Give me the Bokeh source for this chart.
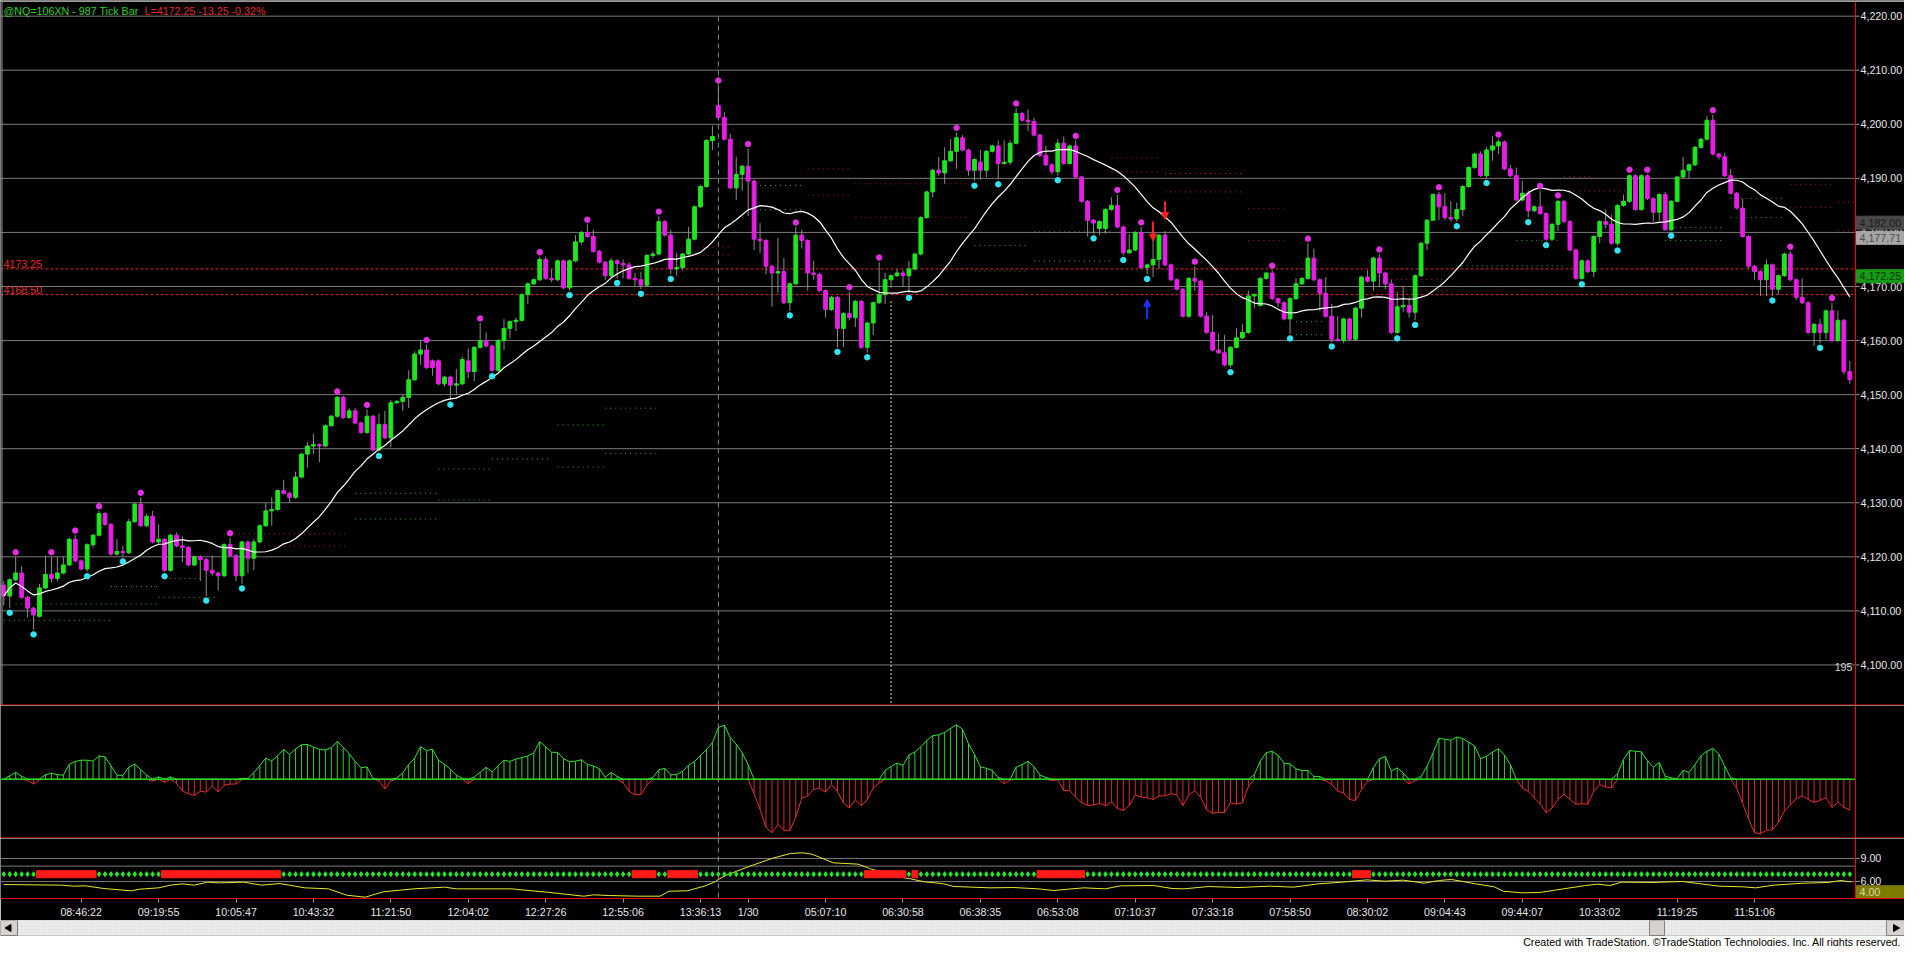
import numpy as np
import pandas as pd
from bokeh.plotting import figure
from bokeh.layouts import column
from bokeh.models import (Range1d, LinearAxis, FixedTicker, Label, Span, Arrow, NormalHead,
                          Grid, ColumnDataSource)
from bokeh.embed import file_html
from bokeh.resources import INLINE
from bokeh.core.properties import value

# ---------------- data ----------------
opens = [4114.75, 4112.75, 4115.75, 4117, 4112.5, 4110.5, 4109, 4114.25, 4116.75, 4116, 4117, 4118.5, 4123.25, 4119.25, 4117.75, 4122.25, 4124, 4128, 4126, 4120.5, 4121, 4120.75, 4126.5, 4129.75, 4125.75, 4127.5, 4122.75, 4123.25, 4117.5, 4124, 4122, 4121.75, 4118.5, 4120, 4119.5, 4117.5, 4117, 4116.5, 4122.25, 4120.25, 4116.5, 4122.75, 4119.75, 4122.75, 4125.75, 4128.5, 4128.75, 4132.25, 4131.75, 4131,
         4134.75, 4139, 4140.5, 4140.75, 4140.5, 4144.25, 4146, 4149.5, 4145.75, 4147, 4144.75, 4143, 4146, 4139.75, 4144.5, 4142, 4148.5, 4148.75, 4149.5, 4152.75, 4157.5, 4158.25, 4156.25, 4156.25, 4152, 4153.25, 4151.75, 4152, 4156.25, 4154.25,
         4158.75, 4160, 4159, 4154.5, 4160, 4162.25, 4163.5, 4163.75, 4168.5, 4170.5, 4171.25, 4175, 4171.5, 4171.25, 4174.75, 4169.75, 4174.75, 4178.25, 4180, 4179.25,
         4176.5, 4174.5, 4172, 4174.75, 4174.25, 4174, 4171.5, 4171.25, 4170.25, 4175.75, 4176, 4182, 4179.5, 4173.25, 4173.5, 4176, 4178.75, 4184.75, 4188.5, 4197,
         4203.5, 4201.25, 4197.25, 4188.25, 4190.75, 4192.25, 4189.5, 4178.75, 4178.5, 4173.75, 4172.5, 4172.75, 4167, 4170.5, 4179.5, 4178.5, 4172.5, 4172.25, 4169.25, 4165.75,
         4168, 4162.25, 4165, 4164.25, 4167.25, 4158.75, 4163.25, 4167, 4168.5, 4171.25, 4172, 4172.5, 4172, 4173.25, 4176, 4182.75, 4187.5, 4191.5, 4191, 4193.25,
         4195, 4197.5, 4195.25, 4191.5, 4193, 4191.5, 4195, 4196, 4192.75, 4193, 4196.5, 4202, 4200.75, 4200.5, 4198, 4194.25, 4192.5, 4191.25, 4196.5, 4192.75,
         4196, 4190.25, 4185.75, 4182.25, 4180.75, 4180.75, 4184.25, 4185, 4181, 4176.25, 4176.75, 4180, 4173.5, 4174, 4175, 4179.5, 4174, 4171.25, 4169.5, 4164.5,
         4171.5, 4171, 4164.5, 4161.5, 4158.25, 4157.75, 4155.5, 4158.75, 4160.5, 4161.5, 4168.25, 4166.5, 4171.5, 4172.5, 4167.75, 4167, 4164, 4167.75, 4170.5, 4171.5,
         4175.25, 4171.25, 4168.75, 4164.5, 4160.25, 4160, 4164, 4160.25, 4166, 4171.75, 4171, 4175.25, 4172.5, 4170.5, 4161.5, 4166.25, 4166.5, 4165.25, 4172, 4178,
         4182.25, 4187, 4184.75, 4182.75, 4182.5, 4184.25, 4188.5, 4192, 4194.5, 4190.5, 4195.25, 4196, 4196.75, 4191.75, 4190.5, 4186, 4187.25, 4184, 4184.75, 4183.5,
         4178.75, 4181.5, 4185.75, 4182, 4176.75, 4171.5, 4174.75, 4172.75, 4179.25, 4182, 4181.5, 4178, 4185, 4185.75, 4190.5, 4184.25, 4190.5, 4186.25, 4183.75, 4187,
         4180.5, 4185.75, 4190.25, 4191.5, 4192.5, 4195.75, 4197.25, 4200.75, 4194.5, 4194, 4190.5, 4187.25, 4184.5, 4179.25, 4173.75, 4172.75, 4171.25, 4174, 4169.5, 4172,
         4176, 4171.25, 4168, 4167, 4161.5, 4163, 4161.5, 4165.5, 4160, 4163.75, 4154.25]

highs = [4115.5, 4116, 4120, 4118.25, 4112.75, 4110.75, 4115, 4120.25, 4120, 4120, 4120, 4123.5, 4124, 4119.5, 4122.5, 4124.25, 4128.5, 4128.25, 4126.25, 4123.25, 4122, 4127, 4130, 4131, 4128, 4128.5, 4126, 4123.5, 4124.25, 4124.5, 4123.75, 4122, 4120.25, 4120.25, 4119.75, 4120.25, 4117.25, 4122.5, 4123.5, 4120.5, 4123, 4123, 4123.25, 4126, 4130, 4131, 4132.5, 4134.25, 4132, 4135.75,
         4139.25, 4141.25, 4142.75, 4141, 4144.5, 4146.25, 4149.75, 4149.75, 4147.5, 4147.5, 4145, 4147.25, 4146.25, 4146.5, 4147, 4149, 4149, 4150, 4154.5, 4158, 4160, 4159.25, 4156.5, 4156.5, 4153.5, 4153.5, 4154.75, 4157, 4158.5, 4159,
         4163.25, 4161.5, 4159.25, 4160.25, 4164, 4163.75, 4164.25, 4168.75, 4170.75, 4171.5, 4175.5, 4175.5, 4173.25, 4175, 4175, 4175, 4179.5, 4180.25, 4181.5, 4180.5,
         4176.75, 4174.75, 4175.25, 4175, 4175, 4174.5, 4172.5, 4172.75, 4176, 4176.5, 4183, 4182.25, 4180.5, 4176.25, 4176.25, 4181, 4185, 4188.75, 4197.25, 4199.75,
         4207.25, 4202.25, 4198.25, 4194, 4192.5, 4195.5, 4189.75, 4181.75, 4178.75, 4174, 4179, 4175.25, 4170.75, 4181, 4180.5, 4178.75, 4174.75, 4172.5, 4169.5, 4168.25,
         4168.25, 4165.25, 4169, 4167.5, 4167.5, 4163.5, 4167.25, 4174.5, 4172.5, 4172.25, 4173.25, 4173, 4174.75, 4176.25, 4183, 4187.75, 4191.75, 4194, 4195.75, 4197.25,
         4198.5, 4198, 4195.5, 4193.75, 4195.25, 4195.25, 4196.25, 4197, 4197, 4197, 4203, 4202.25, 4202.75, 4201.25, 4198.25, 4196, 4192.75, 4197.25, 4197.75, 4196.25,
         4197, 4190.5, 4186, 4182.5, 4182.25, 4184.5, 4186.5, 4187, 4181.25, 4179.75, 4180.25, 4181, 4174.25, 4181.75, 4179.75, 4180.25, 4174.25, 4171.5, 4169.75, 4171.75,
         4173.75, 4171.25, 4165.25, 4164.75, 4161.25, 4161, 4159, 4162.25, 4163, 4169.25, 4168.75, 4171.75, 4172.75, 4173, 4168, 4167.25, 4168, 4171.5, 4171.75, 4178,
         4177, 4171.5, 4171.75, 4166.75, 4164.5, 4164.25, 4164.25, 4166.25, 4172, 4173, 4175.5, 4176, 4172.75, 4171.25, 4169, 4170, 4168, 4172.25, 4178.25, 4182.5,
         4187.25, 4187.5, 4187.25, 4185.75, 4185.5, 4188.75, 4192.25, 4194.75, 4195, 4195.75, 4197.75, 4197.25, 4197, 4192.5, 4192, 4189.5, 4187.75, 4185, 4187.75, 4183.75,
         4181.75, 4186, 4186, 4182.25, 4177, 4175, 4175, 4179.5, 4182.25, 4184.25, 4183.25, 4185.25, 4187, 4190.75, 4190.75, 4190.75, 4190.75, 4186.5, 4187.25, 4187.5,
         4186, 4190.5, 4194, 4192.75, 4196, 4197.5, 4201.5, 4201.75, 4194.75, 4194.75, 4191.75, 4187.5, 4186.25, 4179.5, 4174, 4173, 4175, 4174.25, 4172.25, 4176.25,
         4176.5, 4171.5, 4171.5, 4167.25, 4163.25, 4164, 4165.75, 4167, 4165.5, 4164, 4156.25]

lows = [4111, 4110.5, 4115.5, 4112.25, 4108.75, 4106.5, 4108.75, 4114, 4115.25, 4115.5, 4116.75, 4118.25, 4119, 4117.5, 4117.25, 4121.75, 4123.75, 4125.75, 4120.25, 4120.25, 4120, 4120.5, 4126.25, 4125.5, 4125.5, 4122.5, 4122.5, 4117.25, 4117.25, 4121.75, 4119, 4118.25, 4118.25, 4115.5, 4112.75, 4116.5, 4113.75, 4116.25, 4120, 4115.5, 4115, 4117, 4117.5, 4122.5, 4125.5, 4125.75, 4128.5, 4131.5, 4130, 4130.75,
        4134.5, 4136.5, 4139, 4137.5, 4140.25, 4144, 4145.75, 4145.5, 4145.5, 4144.5, 4142.75, 4142.75, 4139.5, 4139.5, 4141.75, 4140.25, 4148.25, 4147, 4147.5, 4152.5, 4155.5, 4154.75, 4153.5, 4151.75, 4151.5, 4149, 4150, 4151.75, 4153, 4152.5,
        4158.5, 4158.75, 4154.25, 4154.25, 4158.25, 4160.5, 4161.75, 4163.5, 4166.75, 4170.25, 4171, 4171.25, 4170.75, 4171, 4169.5, 4169.25, 4174.5, 4177.75, 4179, 4176.25,
        4174.25, 4171.25, 4171.5, 4171.5, 4171.5, 4171.25, 4170, 4169.5, 4170, 4175.25, 4175.75, 4179.25, 4172.25, 4172, 4173, 4175.75, 4178.5, 4184.5, 4188.25, 4195.25,
        4201, 4197, 4188, 4186, 4187.75, 4183, 4176.75, 4176.25, 4172.25, 4166.25, 4168.75, 4166.75, 4165.5, 4170.25, 4177, 4169.25, 4171.25, 4169, 4164.25, 4165.5,
        4158.75, 4158.75, 4163.75, 4162.5, 4158.5, 4157.75, 4161, 4166.75, 4166.75, 4169.75, 4171.75, 4170, 4168.75, 4173, 4175.75, 4182.5, 4186.5, 4190.5, 4189, 4193,
        4191.75, 4195, 4190.5, 4189.5, 4189.75, 4190.25, 4194.75, 4189.75, 4192.5, 4192.5, 4196.25, 4200.5, 4198.75, 4197.75, 4194, 4192.25, 4190.75, 4190.5, 4192.5, 4192.5,
        4190, 4185.5, 4179.25, 4179.75, 4179.5, 4179.75, 4184, 4180.75, 4175.75, 4176, 4176.5, 4173.25, 4172.25, 4171.75, 4173.25, 4173.75, 4171, 4169.25, 4164.25, 4164.25,
        4169.25, 4164.25, 4161.25, 4158, 4157.5, 4155.25, 4155, 4158.5, 4160.25, 4161.25, 4166, 4166.25, 4171.25, 4167.5, 4166.25, 4163.75, 4161.25, 4167.5, 4170.25, 4171.25,
        4171, 4165.5, 4164.25, 4159.75, 4159.75, 4159.5, 4160, 4160, 4164.25, 4170.75, 4169.25, 4170, 4169.5, 4161.25, 4161.25, 4165.25, 4164.25, 4163.75, 4171.75, 4176.75,
        4182.25, 4182.25, 4182.25, 4182, 4182, 4183, 4188.25, 4191.75, 4190.25, 4190, 4193.25, 4194.5, 4191.5, 4190.25, 4185.75, 4185.75, 4182.75, 4183.75, 4183.25, 4178.5,
        4178.5, 4180.25, 4181.75, 4176.5, 4171.25, 4171.25, 4172.5, 4171.75, 4178, 4180.75, 4177.75, 4177.5, 4184.75, 4185.5, 4184, 4184, 4186, 4182, 4182, 4180.25,
        4180.25, 4185.5, 4190, 4190, 4192.25, 4195.5, 4197, 4194.25, 4193.5, 4190.25, 4187, 4184.25, 4179, 4173.25, 4171.25, 4168.25, 4168.25, 4168.25, 4168.5, 4171.75,
        4171, 4167.5, 4166.75, 4161.25, 4159, 4159.5, 4160.25, 4159.75, 4159.75, 4153.75, 4152]

closes = [4112.75, 4115.75, 4117, 4112.5, 4110.5, 4109.25, 4114.25, 4116.75, 4116, 4117, 4118.5, 4123.25, 4119.25, 4117.75, 4122.25, 4124, 4128, 4126, 4120.5, 4121, 4120.75, 4126.5, 4129.75, 4125.75, 4127.5, 4122.75, 4123.25, 4117.5, 4124, 4122, 4121.75, 4118.5, 4120, 4119.5, 4117.5, 4117, 4116.5, 4122.25, 4120.25, 4116.5, 4122.75, 4119.75, 4122.75, 4125.75, 4128.5, 4128.75, 4132.25, 4131.75, 4131, 4134.75,
          4139, 4140.5, 4140.75, 4140.5, 4144.25, 4146, 4149.5, 4145.75, 4147, 4144.75, 4143, 4146, 4139.75, 4144.5, 4142, 4148.5, 4148.75, 4149.5, 4152.75, 4157.5, 4158.25, 4155, 4155, 4152, 4153.25, 4151.75, 4152, 4156.5, 4154.25, 4158.75,
          4160, 4159, 4154.5, 4160, 4162.25, 4163.5, 4163.75, 4168.5, 4170.5, 4171.25, 4175, 4171.5, 4171.25, 4174.75, 4169.75, 4174.75, 4178.25, 4180, 4179.25, 4176.5,
          4174.5, 4172, 4174.75, 4174.25, 4174, 4171.5, 4171.25, 4170.25, 4175.75, 4176, 4182, 4179.5, 4173.25, 4173.5, 4176, 4178.75, 4184.75, 4188.5, 4197, 4197.75,
          4201.25, 4197.25, 4188.25, 4190.75, 4192.25, 4189.5, 4178.75, 4178.5, 4173.75, 4172.5, 4172.75, 4167, 4170.5, 4179.5, 4178.5, 4172.5, 4172.25, 4169.25, 4165.75, 4168,
          4162.25, 4165, 4164.25, 4167.25, 4158.75, 4163.25, 4167, 4168.5, 4171.25, 4172, 4172.5, 4172, 4173.25, 4176, 4182.75, 4187.5, 4191.5, 4191, 4193.25, 4195,
          4197.5, 4195.25, 4191.5, 4193.5, 4191.5, 4195, 4196, 4192.75, 4193, 4196.5, 4202, 4200.75, 4200.5, 4198, 4194.25, 4192.5, 4191.25, 4196.5, 4192.75, 4196,
          4190.25, 4185.75, 4182.25, 4181.75, 4182, 4184.25, 4185, 4181, 4176.25, 4176.75, 4180, 4173.5, 4174, 4175, 4179.5, 4174, 4171.25, 4169.5, 4164.5, 4171.5,
          4171, 4164.5, 4161.5, 4158.25, 4157.75, 4155.5, 4158.75, 4160.5, 4161.5, 4168.25, 4168.5, 4171.5, 4172.5, 4167.75, 4167, 4164, 4167.75, 4170.5, 4171.5, 4175.25,
          4171.25, 4168.75, 4164.5, 4160.25, 4160, 4164, 4160.25, 4166, 4171.75, 4171, 4175.25, 4172.5, 4170.5, 4161.5, 4166.25, 4166.5, 4165.25, 4172, 4178, 4182.25,
          4187, 4184.75, 4182.75, 4182.5, 4184.25, 4188.5, 4192, 4194.5, 4190.5, 4195.25, 4196, 4196.75, 4191.75, 4190.5, 4186, 4187.25, 4184, 4184.75, 4183.5, 4178.75,
          4181.5, 4185.75, 4182, 4176.75, 4171.5, 4174.75, 4172.75, 4179.25, 4182, 4181.5, 4178, 4185, 4185.75, 4190.5, 4184.25, 4190.5, 4186.25, 4183.75, 4187, 4180.5,
          4185.75, 4190.25, 4191.5, 4192.5, 4195.75, 4197.25, 4200.75, 4194.5, 4194, 4190.5, 4187.25, 4184.5, 4179.25, 4173.75, 4172.75, 4171.25, 4174, 4169.5, 4172, 4176,
          4171.25, 4168, 4167, 4161.5, 4163, 4161.5, 4165.5, 4160, 4163.75, 4154.25, 4152.75]

# swing markers (bar numbers, 0-based)
swing_high_bars = [2, 8, 12, 16, 23, 38, 56, 61, 71, 80, 90, 98, 110, 120, 125, 133, 142, 147, 160, 170,
                   180, 187, 191, 200, 213, 219, 231, 241, 251, 258, 261, 273, 276, 287, 300, 307]
swing_low_bars = [1, 5, 14, 20, 27, 34, 40, 63, 75, 82, 95, 103, 107, 112, 132, 140, 145, 152, 163, 167,
                  177, 183, 188, 192, 206, 216, 223, 234, 237, 244, 249, 256, 259, 265, 271, 280, 297, 305]

# dotted level segments (bar from, bar to, price)
green_lvl_x0 = [0, 2, 18, 27, 26, 59, 59, 73, 73, 82, 93, 93, 101, 101, 127, 127, 163, 163, 173, 173, 217, 217, 244, 244, 254, 279, 279, 290, 290]
green_lvl_x1 = [18, 26, 26, 33, 36, 73, 73, 82, 82, 92, 101, 101, 110, 110, 134, 134, 172, 172, 186, 186, 222, 222, 262, 254, 261, 289, 289, 299, 299]
green_lvl_y = [4108.25, 4111.25, 4114.5, 4116, 4112.5, 4131.75, 4127, 4136.25, 4130.5, 4138.1, 4144.4, 4136.6, 4147.5, 4139.1, 4188.7, 4184.2, 4177.6, 4172.9, 4180.1, 4174.7, 4163.5, 4161.1, 4173.8, 4170, 4178.5, 4180.9, 4178.5, 4186.3, 4182.75]
red_lvl_x0 = [37, 37, 114, 114, 135, 135, 143, 143, 186, 186, 195, 195, 209, 209, 233, 233, 262, 262, 300, 300, 308, 308]
red_lvl_x1 = [58, 58, 122, 122, 142, 142, 162, 162, 194, 194, 208, 208, 215, 215, 243, 243, 267, 274, 307, 307, 310.8, 310.8]
red_lvl_y = [4124.25, 4122, 4177.3, 4175.8, 4191.75, 4186.9, 4189, 4182.8, 4193.8, 4191.2, 4190.9, 4187.5, 4184.4, 4178.5, 4171.3, 4169.2, 4190.3, 4187.7, 4188.9, 4184.65, 4185.6, 4180.3]

alert_levels = [4173.25, 4168.50]
alert_labels = ["4173.25", "4168.50"]

price_ticks = list(range(4100, 4221, 10))

# right-axis value boxes (price, text)
box_prices = [4181.8, 4179.0, 4171.9]
box_texts = ["4,182.00", "4,177.71", "4,172.25"]

# arrows (bar, tail price, head price)
arrow_blue = (192, 4164.0, 4167.6)
arrows_red = [(193, 4182.0, 4178.4), (195, 4185.75, 4182.4)]

SESSION_BREAK_BAR = 120
MARKER_BAR = 149
MARKER_TOP = 4167.3

# time axis
time_tick_bars = [13, 26, 39, 52, 65, 78, 91, 104, 117, 125, 138, 151, 164, 177, 190, 203, 216, 229, 242, 255, 268, 281, 294]
time_tick_labels = ["08:46:22", "09:19:55", "10:05:47", "10:43:32", "11:21:50", "12:04:02", "12:27:26", "12:55:06",
                    "13:36:13", "1/30", "05:07:10", "06:30:58", "06:38:35", "06:53:08", "07:10:37", "07:33:18",
                    "07:58:50", "08:30:02", "09:04:43", "09:44:07", "10:33:02", "11:19:25", "11:51:06"]

# lower study: yellow line vertices (bar, value)
yellow_x = [0, 9.7, 11.7, 13.7, 16.8, 21.4, 22.9, 26, 28, 30, 32, 34.2, 36.2, 40.3, 43.3, 46.4, 50.5, 54.5, 57.6, 60.7,
            63.7, 68.9, 74, 76, 85.2, 88.2, 91.3, 97.4, 99, 101.5, 106.6, 110.2, 111.7, 114.8, 117.8, 119.4, 120.9, 125, 129, 132.1,
            134.2, 135.7, 139.3, 143.4, 145.4, 149.5, 152, 154.6, 157.6, 159.5, 165.6, 169.6, 173.7, 176.3, 178.8, 181.4, 185, 187.5, 193.1, 196.2,
            198.2, 202.3, 207.4, 212.5, 216.6, 220.7, 224.8, 228.9, 231.9, 235, 238.5, 241.1, 243.1, 247.2, 250.3, 251.8, 254.9, 257.9, 260.5, 265.6,
            267.6, 269.7, 271.7, 276.8, 281.9, 288, 292.1, 294.2, 297.2, 302.3, 306.4, 308.5, 309.5, 310.3]
yellow_y = [5.60, 5.52, 5.39, 5.43, 5.08, 4.78, 5.00, 5.17, 5.52, 5.69, 5.52, 5.91, 5.82, 5.91, 5.52, 5.73, 5.17, 5.04, 4.21, 3.95,
            4.65, 5.04, 5.26, 5.04, 5.04, 4.82, 4.60, 4.08, 4.26, 4.17, 4.08, 4.08, 4.73, 4.78, 5.43, 5.95, 6.69, 7.91, 9.00, 9.65,
            9.73, 9.56, 8.43, 8.26, 7.69, 6.69, 6.39, 5.95, 5.73, 5.35, 5.17, 5.21, 5.04, 4.82, 5.00, 5.17, 5.04, 5.43, 5.47, 5.08,
            5.04, 5.34, 5.21, 5.39, 5.26, 5.69, 5.91, 6.21, 6.04, 6.17, 5.78, 6.13, 6.26, 5.69, 5.30, 4.73, 4.52, 4.56, 4.87, 5.47,
            5.65, 5.47, 5.91, 5.87, 6.00, 5.39, 5.30, 5.17, 5.52, 5.78, 5.87, 6.13, 6.00, 5.95]
squeeze_on_start = [6, 27, 106, 112, 145, 153, 174, 227]
squeeze_on_end = [15, 46, 109, 116, 151, 153, 181, 229]
SQUEEZE_LEVEL = 6.95
study_grid = [6, 8, 9]
study_ticks = [6, 9]
study_ticks_text = ["6.00", "9.00"]

# ---------------- styling / layout ----------------
FONT = "Liberation Sans"
FS = "10.7px"
W = 1904
PXB = 5.955                 # pixels per bar
X0 = -0.55
AX = X0 + 1855 / PXB        # position of the red price-axis line (bar units)
H1, H2, H3, H4 = 705, 133, 82, 26
H3_AXIS = 22
GREEN = "#1ee61e"
MAGENTA = "#e61ee6"
WICK = "#8c8c8c"
GRID = "#7a7a7a"
AXIS_RED = "#ff0000"
LABEL_COL = "#e6e6e6"

n = len(closes)
idx = np.arange(n)
o = np.array(opens, dtype=float)
h = np.array(highs, dtype=float)
l = np.array(lows, dtype=float)
c = np.array(closes, dtype=float)
hi = np.maximum(h, np.maximum(o, c))
lo = np.minimum(l, np.minimum(o, c))
up = c >= o

cs = pd.Series(c)
ma = cs.rolling(20, min_periods=1).mean().to_numpy()
osc = (cs - cs.shift(8).bfill()).ewm(span=3, adjust=False).mean().to_numpy()

xr = Range1d(X0, X0 + W / PXB)


def px(d):
    return d / PXB


def base_fig(height, y_range, bottom=0):
    p = figure(width=W, height=height, x_range=xr, y_range=y_range,
               output_backend="svg", toolbar_location=None, x_axis_location=None, y_axis_location=None,
               background_fill_color="black", border_fill_color="black", outline_line_color=None,
               min_border_left=0, min_border_right=0, min_border_top=0, min_border_bottom=bottom)
    p.center = [r for r in p.center if not isinstance(r, Grid)]
    p.add_layout(Span(location=AX, dimension="height", line_color=AXIS_RED, line_width=1))
    return p


def price_axis(p, ticks, texts, grid_ticks=None):
    gt = ticks if grid_ticks is None else grid_ticks
    p.segment(x0=[X0] * len(gt), y0=gt, x1=[AX] * len(gt), y1=gt, line_color=GRID, line_width=1)
    p.segment(x0=[AX] * len(ticks), y0=ticks, x1=[AX + px(4)] * len(ticks), y1=ticks,
              line_color="#9a9a9a", line_width=1)
    p.text(x=[AX + px(5)] * len(ticks), y=ticks, text=texts, text_align="left", text_baseline="middle",
           text_color=LABEL_COL, text_font=value(FONT), text_font_size=FS)


def axis_box(p, y, text, bg, fg):
    p.rect(x=[AX + px(26)], y=[y], width=50, width_units="screen", height=13, height_units="screen",
           fill_color=bg, line_color=bg)
    p.text(x=[AX + px(4)], y=[y], text=[text], text_align="left", text_baseline="middle",
           text_color=fg, text_font=value(FONT), text_font_size=FS)


# ---------------- main price panel ----------------
p1 = base_fig(H1, Range1d(4092.5, 4222.9))
price_axis(p1, price_ticks, [f"{t:,.2f}" for t in price_ticks])

p1.add_layout(Span(location=H1 - 1, location_units="screen", dimension="width", line_color="#9a9a9a"))
p1.add_layout(Span(location=1.5, location_units="screen", dimension="height", line_color="#9a9a9a"))
p1.add_layout(Span(location=0.5, location_units="screen", dimension="width", line_color=AXIS_RED))

p1.segment(x0=[X0] * 2, y0=alert_levels, x1=[AX] * 2, y1=alert_levels,
           line_color="#e02828", line_dash="3 2", line_width=1)
for lv, tx in zip(alert_levels, alert_labels):
    p1.add_layout(Label(x=3, y=lv, x_units="screen", y_units="data", text=tx, text_color="#e82a2a",
                        text_font=FONT, text_font_size=FS, text_baseline="bottom", y_offset=1))

p1.segment(x0=green_lvl_x0, y0=green_lvl_y, x1=green_lvl_x1, y1=green_lvl_y,
           line_color="#3aa83a", line_dash="1 4", line_width=1)
p1.segment(x0=red_lvl_x0, y0=red_lvl_y, x1=red_lvl_x1, y1=red_lvl_y,
           line_color="#b02424", line_dash="1 4", line_width=1)

p1.segment(x0=[SESSION_BREAK_BAR], y0=[4092.5], x1=[SESSION_BREAK_BAR], y1=[4220.5],
           line_color="#8a8a8a", line_dash="5 4", line_width=1)
p1.segment(x0=[MARKER_BAR], y0=[MARKER_TOP], x1=[MARKER_BAR], y1=[4092.6],
           line_color="#efe6b0", line_dash="2 2", line_width=1)

src = ColumnDataSource(dict(x=idx, top=np.maximum(o, c), bottom=np.minimum(o, c), hi=hi, lo=lo,
                            color=np.where(up, GREEN, MAGENTA)))
p1.segment(x0="x", y0="hi", x1="x", y1="lo", source=src, line_color=WICK, line_width=1)
p1.vbar(x="x", width=0.64, top="top", bottom="bottom", source=src,
        fill_color="color", line_color="color", line_width=1)

p1.line(idx, ma, line_color="white", line_width=1.2)

hb = np.array(swing_high_bars)
lb = np.array(swing_low_bars)
p1.scatter(hb, hi[hb] + 0.85, size=5.5, marker="circle", fill_color="#e030e0", line_color="#e030e0")
p1.scatter(lb, lo[lb] - 0.85, size=5.5, marker="circle", fill_color="#30e4f0", line_color="#30e4f0")

bx, by0, by1 = arrow_blue
p1.add_layout(Arrow(end=NormalHead(size=7, fill_color="#2030ff", line_color="#2030ff"),
                    x_start=bx, y_start=by0, x_end=bx, y_end=by1, line_color="#2030ff", line_width=2))
for ax_, y0_, y1_ in arrows_red:
    p1.add_layout(Arrow(end=NormalHead(size=7, fill_color="#ff2020", line_color="#ff2020"),
                        x_start=ax_, y_start=y0_, x_end=ax_, y_end=y1_, line_color="#ff2020", line_width=2))

p1.text(x=[AX - px(3)], y=[4099.6], text=["195"], text_align="right", text_baseline="middle",
        text_color="#d8d8d8", text_font=value(FONT), text_font_size=FS)

p1.add_layout(Label(x=3, y=H1 - 4, x_units="screen", y_units="screen", text="@NQ=106XN - 987 Tick Bar",
                    text_color="#2ad22a", text_font=FONT, text_font_size=FS, text_baseline="top"))
p1.add_layout(Label(x=144, y=H1 - 4, x_units="screen", y_units="screen", text="L=4172.25  -13.25  -0.32%",
                    text_color="#e62828", text_font=FONT, text_font_size=FS, text_baseline="top"))

axis_box(p1, box_prices[0], box_texts[0], "#4a4a4a", "#1c1c1c")
axis_box(p1, box_prices[1], box_texts[1], "#a6a6a6", "#4a4a4a")
axis_box(p1, box_prices[2], box_texts[2], "#179a17", "#0b3a0b")

# ---------------- histogram panel ----------------
pk = float(np.max(osc))
p2 = base_fig(H2, Range1d(-pk * 61 / 56, pk * 76 / 56))
p2.add_layout(Span(location=0.5, location_units="screen", dimension="width", line_color=AXIS_RED))
p2.add_layout(Span(location=SESSION_BREAK_BAR, dimension="height", line_color="#8a8a8a", line_dash="5 4"))

pos = np.where(osc > 0, osc, 0.0)
neg = np.where(osc < 0, osc, 0.0)
p2.segment(x0=idx, y0=np.zeros(n), x1=idx, y1=neg, line_color="#d42a2a", line_width=1)
p2.line(idx, neg, line_color="#e03030", line_width=1)
p2.segment(x0=idx, y0=np.zeros(n), x1=idx, y1=pos, line_color="#3cc83c", line_width=1)
p2.segment(x0=[X0], y0=[0], x1=[AX], y1=[0], line_color="#22d822", line_width=1.5)
p2.line(idx, pos, line_color="#34e034", line_width=1)

# ---------------- lower study panel ----------------
p3 = base_fig(H3, Range1d(3.78, 11.6), bottom=H3_AXIS)
price_axis(p3, study_ticks, study_ticks_text, grid_ticks=study_grid)
axb = LinearAxis(ticker=FixedTicker(ticks=time_tick_bars),
                 major_label_overrides={k: t for k, t in zip(time_tick_bars, time_tick_labels)})
axb.axis_line_color = AXIS_RED
axb.major_tick_line_color = "#9a9a9a"
axb.major_tick_out = 4
axb.major_tick_in = 0
axb.minor_tick_line_color = None
axb.major_label_text_color = LABEL_COL
axb.major_label_text_font = FONT
axb.major_label_text_font_size = FS
axb.major_label_standoff = 3
p3.add_layout(axb, "below")
p3.add_layout(Span(location=SESSION_BREAK_BAR, dimension="height", line_color="#8a8a8a", line_dash="5 4"))

sq = np.zeros(n, dtype=bool)
for s, e in zip(squeeze_on_start, squeeze_on_end):
    sq[s:e + 1] = True
p3.line(yellow_x, yellow_y, line_color="#e8e830", line_width=1)
p3.scatter(idx[~sq], np.full((~sq).sum(), SQUEEZE_LEVEL), marker="diamond", size=5,
           fill_color="#22ee22", line_color="#22ee22")
p3.rect(x=idx[sq], y=np.full(sq.sum(), SQUEEZE_LEVEL), width=1.0, height=7, height_units="screen",
        fill_color="#ff1a1a", line_color="#ff1a1a")
axis_box(p3, 4.6, "4.00", "#7c7c00", "#d8d8a8")

# ---------------- scrollbar + footer ----------------
p4 = figure(width=W, height=H4, x_range=Range1d(0, W), y_range=Range1d(0, H4), output_backend="svg",
            toolbar_location=None, x_axis_location=None, y_axis_location=None,
            background_fill_color="white", border_fill_color="white", outline_line_color=None,
            min_border_left=0, min_border_right=0, min_border_top=0, min_border_bottom=0)
p4.center = [r for r in p4.center if not isinstance(r, Grid)]
p4.quad(left=[0], right=[W], bottom=[11], top=[H4], fill_color="#e4e4e4", line_color="#c8c8c8",
        hatch_pattern="dot", hatch_color="#ffffff", hatch_scale=3)
p4.quad(left=[0, W - 18, 1649], right=[17, W, 1664], bottom=[11, 11, 11], top=[H4, H4, H4],
        fill_color="#d6d3ce", line_color="#808080")
p4.scatter([8.5, W - 9], [18.5, 18.5], marker="triangle", size=7, angle=[np.pi / 2, -np.pi / 2],
           fill_color="black", line_color="black")
p4.text(x=[W - 3], y=[5], text=["Created with TradeStation. \u00a9TradeStation Technologies, Inc. All rights reserved."],
        text_align="right", text_baseline="middle", text_font=value(FONT), text_font_size="10.7px",
        text_color="black")

layout = column(p1, p2, p3, p4, spacing=0)
open("out.html", "w").write(file_html(layout, INLINE))
